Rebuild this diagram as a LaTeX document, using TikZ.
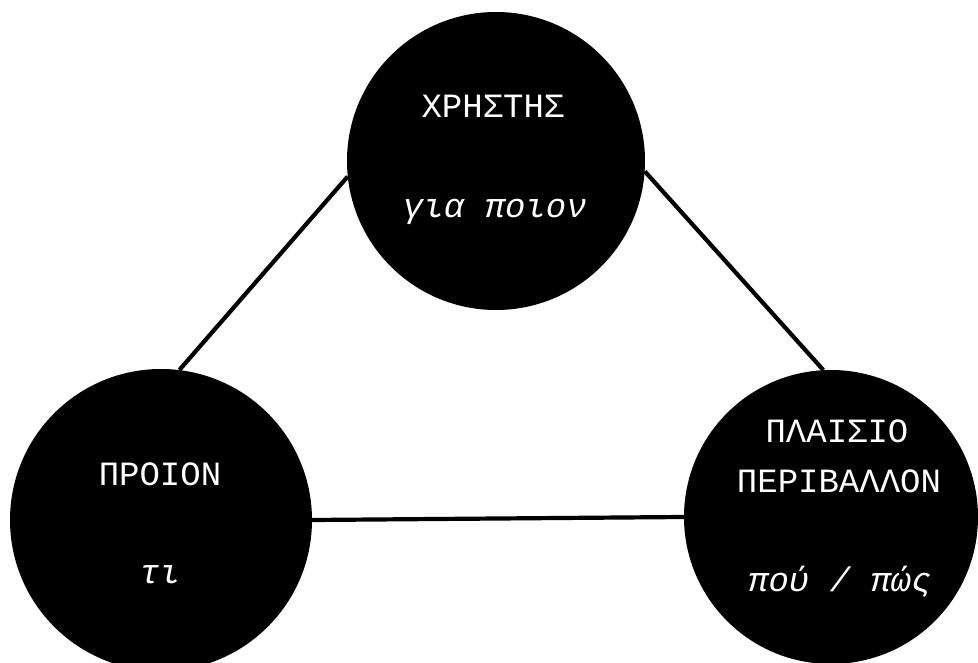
\documentclass[tikz,border=0pt]{standalone}
\usepackage{fontspec}
\newfontfamily\labelfont{Liberation Mono}
\tikzset{
  disc/.style={circle, fill=black, draw=none, inner sep=0pt, minimum size=#1},
  link/.style={line width=4.2pt, black},
  caption/.style={text=white, anchor=base, inner sep=0pt, font=\labelfont\fontsize{34}{40}\selectfont},
  hint/.style={caption, font=\labelfont\itshape\fontsize{34}{40}\selectfont}
}
\begin{document}
\begin{tikzpicture}[x=1pt, y=-1pt]
  \path[use as bounding box, fill=white] (0,0) rectangle (978,663);

  % the three discs
  \node[disc=298pt] (user) at (496,161) {};
  \node[disc=302pt] (product) at (161,520) {};
  \node[disc=294pt] (context) at (831,517) {};

  % connecting lines
  \draw[link] (user.186) -- (product.83.5);
  \draw[link] (user.-4) -- (context.93.5);
  \draw[link] (product.east) -- (context.west);

  % labels
  \node[caption] (userA) at (493,118) {ΧΡΗΣΤΗΣ};
  \node[hint] (userB) at (495,218) {για ποιον};
  \node[caption] (prodA) at (160,485) {ΠΡΟΙΟΝ};
  \node[hint] (prodB) at (160,583) {τι};
  \node[caption] (ctxA) at (837,442) {ΠΛΑΙΣΙΟ};
  \node[caption] (ctxB) at (839,492) {ΠΕΡΙΒΑΛΛΟΝ};
  \node[hint] (ctxC) at (840,591) {πού / πώς};
\end{tikzpicture}
\end{document}
